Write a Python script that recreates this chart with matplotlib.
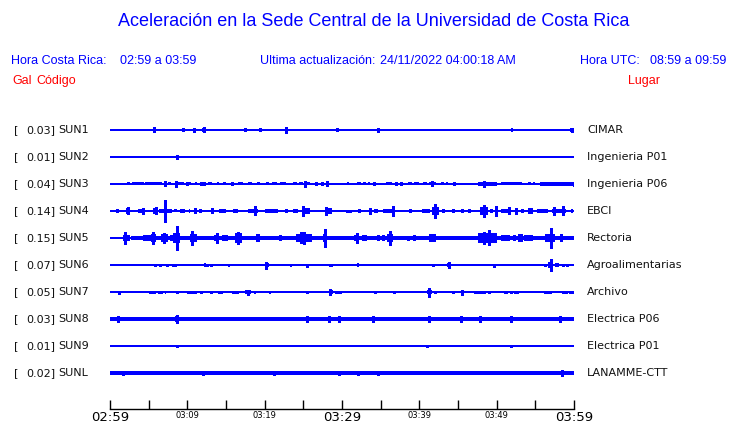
import matplotlib
matplotlib.use("Agg")
import matplotlib.pyplot as plt

# station info, top to bottom
codes = ["SUN1", "SUN2", "SUN3", "SUN4", "SUN5", "SUN6", "SUN7", "SUN8", "SUN9", "SUNL"]
gal = ["0.03", "0.01", "0.04", "0.14", "0.15", "0.07", "0.05", "0.03", "0.01", "0.02"]
places = ["CIMAR", "Ingenieria P01", "Ingenieria P06", "EBCI", "Rectoria",
          "Agroalimentarias", "Archivo", "Electrica P06", "Electrica P01", "LANAMME-CTT"]

# minutes after 02:59
tick_min = [0, 5, 10, 15, 20, 25, 30, 35, 40, 45, 50, 55, 60]
tick_txt = ["02:59", "", "03:09", "", "03:19", "", "03:29", "", "03:39", "", "03:49", "", "03:59"]

# trace half-thickness of the quiet line (px)
base_half = [0.6, 0.6, 0.6, 0.6, 0.6, 0.6, 0.6, 2.0, 0.6, 1.6]

# bursts: (start min, end min, half amplitude px)
SUN1_SEG = [(5.5, 5.9, 1.8), (11.9, 12.3, 2.0), (51.8, 52.1, 1.6), (59.5, 59.9, 1.6)]
SUN1_SPK = [(5.7, 2.5), (9.5, 1.5), (10.8, 2.0), (12.2, 2.5), (17.4, 1.5), (19.4, 1.5),
            (22.7, 3.0), (29.4, 1.5), (34.6, 2.0), (59.7, 2.2)]
SUN2_SEG = []
SUN2_SPK = [(8.6, 2.0)]
SUN3_SEG = [(2.2, 2.6, 1.5), (2.9, 4.4, 1.5), (4.5, 6.7, 1.5), (7.5, 7.9, 1.5), (8.8, 9.6, 1.5),
            (10.0, 10.5, 1.5), (11.0, 11.3, 1.5), (12.7, 13.2, 1.5), (13.8, 14.1, 1.5),
            (14.6, 15.0, 1.5), (16.5, 17.2, 1.5), (17.8, 18.3, 1.5), (19.0, 19.4, 1.5),
            (20.2, 20.6, 1.5), (21.0, 21.6, 1.5), (22.0, 22.8, 1.5), (23.6, 24.2, 1.5),
            (24.5, 25.0, 1.5), (25.3, 25.8, 1.5), (30.6, 30.9, 1.5), (32.0, 32.4, 1.5),
            (32.7, 33.1, 1.5), (33.3, 33.6, 1.5), (35.7, 36.5, 1.5), (38.5, 39.0, 1.5),
            (39.3, 40.0, 1.5), (40.5, 41.0, 1.5), (41.2, 42.2, 1.5), (42.8, 43.2, 1.5),
            (43.4, 43.7, 1.5), (47.6, 50.0, 1.6), (50.5, 53.3, 1.5), (54.0, 54.4, 1.5),
            (54.7, 55.0, 1.5), (55.6, 60.0, 1.6)]
SUN3_SPK = [(7.1, 2.5), (8.5, 3.0), (9.9, 1.5), (11.8, 1.5), (12.2, 1.5), (15.8, 1.5),
            (25.2, 3.0), (26.6, 1.5), (27.4, 1.5), (28.0, 2.5), (34.1, 1.5), (37.0, 1.5),
            (37.6, 1.5), (41.6, 2.5), (44.5, 1.5), (48.4, 3.0), (56.0, 1.5), (60.0, 2.0)]
SUN4_SEG = [(2.1, 2.5, 3.0), (3.6, 4.4, 1.8), (5.6, 6.2, 2.8), (6.4, 8.0, 1.8), (8.3, 8.7, 1.5),
            (9.1, 9.7, 1.6), (10.2, 10.4, 1.8), (10.8, 11.2, 2.8), (13.0, 13.5, 2.8),
            (14.1, 15.0, 1.8), (15.9, 16.6, 1.8), (17.9, 19.2, 2.3), (20.0, 21.7, 1.8),
            (23.7, 24.3, 2.3), (24.8, 25.9, 3.2), (27.8, 28.7, 2.8), (32.1, 32.5, 1.8),
            (34.2, 34.6, 1.8), (35.3, 36.6, 1.8), (40.3, 41.4, 2.3), (41.6, 42.5, 4.0),
            (47.8, 48.9, 3.6), (49.1, 49.5, 1.8), (50.6, 51.9, 1.8), (54.0, 54.7, 2.8),
            (55.2, 56.7, 1.8), (57.1, 59.0, 2.3), (59.6, 59.9, 1.8)]
SUN4_SPK = [(0.95, 1.5), (2.3, 3.5), (4.3, 3.0), (5.9, 3.5), (7.1, 11.0), (11.6, 1.5),
            (18.8, 4.5), (22.8, 1.5), (25.0, 5.0), (27.9, 4.0), (30.6, 1.2), (31.0, 1.2),
            (33.6, 3.0), (36.6, 5.0), (38.8, 1.5), (42.0, 7.0), (43.1, 1.5), (44.3, 1.5),
            (45.5, 1.5), (46.4, 1.5), (48.3, 6.0), (49.9, 5.0), (51.6, 3.5), (52.5, 3.0),
            (53.3, 1.5), (57.4, 4.0), (58.6, 4.5)]
SUN5_SEG = [(0.0, 1.1, 1.4), (1.2, 1.4, 1.4), (1.7, 2.6, 2.8), (2.7, 60.0, 1.8), (3.4, 4.1, 2.4),
            (4.3, 5.3, 2.8), (5.3, 6.0, 3.7), (6.6, 7.5, 3.7), (7.8, 8.1, 2.8), (8.2, 9.1, 4.6),
            (10.3, 11.2, 4.2), (13.4, 14.0, 2.8), (14.5, 15.3, 2.8), (16.2, 17.1, 5.0),
            (17.8, 18.2, 2.4), (18.9, 19.4, 4.2), (19.6, 20.3, 2.4), (24.1, 26.1, 4.2),
            (26.8, 27.3, 2.4), (27.6, 28.0, 3.7), (31.5, 32.1, 2.8), (32.6, 33.2, 2.8),
            (35.8, 36.6, 3.7), (40.1, 41.3, 2.4), (41.3, 42.2, 3.7), (45.6, 46.8, 2.2),
            (47.6, 50.0, 4.6), (50.6, 51.7, 3.2), (52.1, 52.5, 3.2), (52.8, 53.4, 4.2),
            (53.5, 54.7, 3.2), (56.3, 57.5, 4.2), (58.2, 58.6, 3.7), (59.4, 59.8, 2.4)]
SUN5_SPK = [(2.0, 6.0), (5.6, 6.0), (7.0, 5.0), (8.6, 12.0), (10.6, 7.0), (13.9, 4.5),
            (16.6, 6.0), (22.0, 2.5), (24.7, 5.5), (25.1, 6.0), (27.8, 9.0), (31.9, 5.0),
            (34.6, 2.5), (35.3, 2.5), (36.2, 7.0), (38.5, 2.0), (39.3, 2.5), (48.4, 6.0),
            (49.0, 7.5), (57.0, 10.0)]
SUN6_SEG = [(5.7, 6.1, 1.5), (8.05, 8.6, 1.5), (12.1, 12.4, 1.6), (15.2, 15.5, 1.5),
            (20.0, 20.5, 1.8), (23.3, 23.5, 1.5), (28.7, 28.9, 1.5), (32.0, 32.2, 1.6),
            (41.7, 42.0, 1.5), (43.6, 44.0, 2.2), (56.7, 57.3, 3.2), (57.5, 58.0, 1.6)]
SUN6_SPK = [(6.5, 1.3), (7.4, 1.3), (12.6, 1.3), (13.0, 1.3), (20.2, 3.5), (25.5, 1.5),
            (28.5, 1.3), (43.8, 3.0), (49.7, 1.5), (56.3, 1.3), (57.0, 6.0), (58.6, 1.3),
            (59.1, 1.3)]
SUN7_SEG = [(5.0, 6.0, 1.5), (6.6, 6.8, 1.5), (7.1, 7.3, 1.5), (8.9, 9.6, 1.4), (9.9, 11.2, 1.5),
            (12.9, 13.3, 1.5), (14.0, 14.6, 1.5), (15.8, 16.7, 1.5), (17.4, 18.2, 1.7),
            (18.6, 18.9, 1.5), (20.5, 20.8, 1.5), (28.3, 28.8, 1.8), (36.6, 37.0, 1.5),
            (41.0, 41.6, 2.2), (47.6, 48.6, 1.5), (50.9, 51.5, 1.5), (52.2, 52.9, 1.5),
            (59.3, 60.0, 1.5)]
SUN7_SPK = [(1.1, 1.5), (6.4, 1.3), (8.6, 1.3), (11.8, 1.3), (17.8, 2.5), (25.5, 1.3),
            (28.5, 3.0), (29.2, 1.3), (29.6, 1.3), (29.8, 1.3), (34.3, 1.3), (41.3, 4.5),
            (42.0, 1.3), (44.4, 1.3), (45.5, 2.5), (47.2, 1.3), (47.5, 1.3), (49.0, 1.3),
            (51.9, 1.3), (56.3, 1.3), (56.6, 1.3), (56.9, 1.3), (58.6, 1.3), (59.0, 1.3)]
SUN8_SEG = [(8.4, 8.8, 3.0)]
SUN8_SPK = [(1.0, 2.8), (8.6, 3.8), (25.5, 2.8), (28.3, 2.8), (29.6, 2.8), (34.0, 2.6),
            (41.2, 2.8), (45.4, 2.6), (47.9, 2.8), (51.9, 2.8), (58.2, 2.8)]
SUN9_SEG = []
SUN9_SPK = [(8.6, 1.3), (41.0, 1.2), (51.9, 1.2)]
SUNL_SEG = [(0.0, 0.3, 2.2)]
SUNL_SPK = [(1.7, 2.4), (12.0, 2.4), (21.2, 2.4), (29.6, 2.4), (32.1, 2.4), (34.6, 2.4),
            (58.5, 2.8)]

segments = [SUN1_SEG, SUN2_SEG, SUN3_SEG, SUN4_SEG, SUN5_SEG,
            SUN6_SEG, SUN7_SEG, SUN8_SEG, SUN9_SEG, SUNL_SEG]
spikes = [SUN1_SPK, SUN2_SPK, SUN3_SPK, SUN4_SPK, SUN5_SPK,
          SUN6_SPK, SUN7_SPK, SUN8_SPK, SUN9_SPK, SUNL_SPK]

W, H = 740, 423
BLUE = "#0000ff"
RED = "#ff0000"
PX = 1.0 / 27  # one pixel in trace units (traces 27 px apart)

fig = plt.figure(figsize=(W / 100, H / 100), dpi=100)
fig.patch.set_facecolor("white")

def fx(x):
    return x / W

def fy(y):
    return 1 - y / H

head = "Liberation Sans"
hs = 9
fig.text(fx(374), fy(22), "Aceleración en la Sede Central de la Universidad de Costa Rica",
         ha="center", va="center", color=BLUE, fontsize=13, family=head)
fig.text(fx(11), fy(61), "Hora Costa Rica:", ha="left", va="center", color=BLUE, fontsize=hs, family=head)
fig.text(fx(120), fy(61), "02:59 a 03:59", ha="left", va="center", color=BLUE, fontsize=hs, family=head)
fig.text(fx(260), fy(61), "Ultima actualización:", ha="left", va="center", color=BLUE, fontsize=hs, family=head)
fig.text(fx(380), fy(61), "24/11/2022 04:00:18 AM", ha="left", va="center", color=BLUE, fontsize=hs, family=head)
fig.text(fx(580), fy(61), "Hora UTC:", ha="left", va="center", color=BLUE, fontsize=hs, family=head)
fig.text(fx(650), fy(61), "08:59 a 09:59", ha="left", va="center", color=BLUE, fontsize=hs, family=head)
fig.text(fx(12), fy(81), "Gal", ha="left", va="center", color=RED, fontsize=hs, family=head)
fig.text(fx(36), fy(81), "Código", ha="left", va="center", color=RED, fontsize=hs, family=head)
fig.text(fx(628), fy(81), "Lugar", ha="left", va="center", color=RED, fontsize=hs, family=head)

# traces
ax = fig.add_axes([fx(110), fy(386.5), fx(574) - fx(110), 270 / H])
ax.set_xlim(0, 60)
ax.set_ylim(9.5, -0.5)
ax.axis("off")

for i in range(len(codes)):
    ax.bar(0, 2 * base_half[i] * PX, width=60, bottom=i - base_half[i] * PX,
           align="edge", color=BLUE, linewidth=0)
    for t0, t1, a in segments[i]:
        ax.bar(t0, 2 * a * PX, width=t1 - t0, bottom=i - a * PX, align="edge",
               color=BLUE, linewidth=0, antialiased=False)
    if spikes[i]:
        ts = [s[0] for s in spikes[i]]
        amps = [s[1] for s in spikes[i]]
        ax.vlines(ts, [i - a * PX for a in amps], [i + a * PX for a in amps],
                  color=BLUE, linewidth=0.75, antialiased=False)

    ytr = fy(130 + 27 * i)
    fig.text(fx(14), ytr, "[", ha="left", va="center", fontsize=8, color="#111111")
    fig.text(fx(55), ytr, gal[i] + "]", ha="right", va="center", fontsize=8, color="#111111")
    fig.text(fx(58), ytr, codes[i], ha="left", va="center", fontsize=8, color="#111111")
    fig.text(fx(587), ytr, places[i], ha="left", va="center", fontsize=8, color="#111111")

# time axis
tax = fig.add_axes([fx(110), fy(409), fx(574) - fx(110), 0.001])
tax.set_xlim(0, 60)
tax.set_yticks([])
for s in ["top", "left", "right"]:
    tax.spines[s].set_visible(False)
tax.spines["bottom"].set_linewidth(1.0)
tax.set_xticks(tick_min)
tax.set_xticklabels(tick_txt)
tax.tick_params(axis="x", direction="in", length=6.5, width=1.0, pad=1.5)
for lab in tax.get_xticklabels():
    if lab.get_text() in ("02:59", "03:29", "03:59"):
        lab.set_fontsize(9.5)
    else:
        lab.set_fontsize(6)

fig.savefig("out.png", dpi=100, facecolor="white")
